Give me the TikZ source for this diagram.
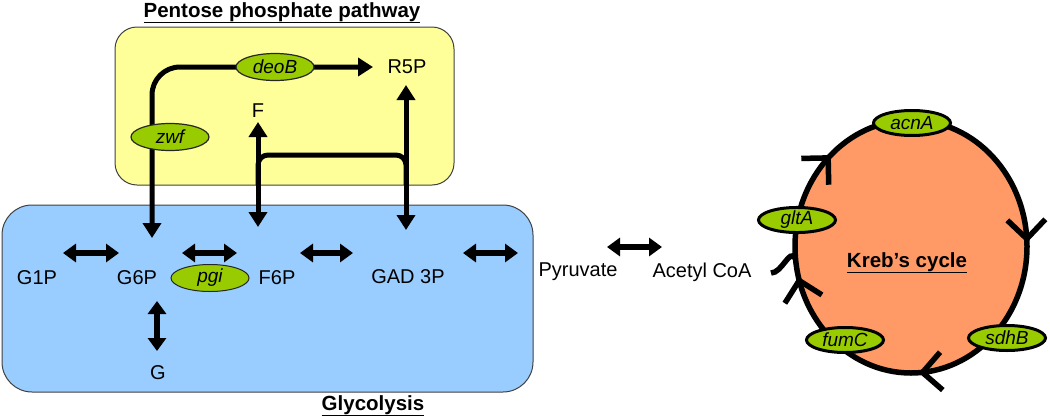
\documentclass[tikz,border=0pt]{standalone}
\usepackage{fontspec}
\setmainfont{Liberation Sans}
\usetikzlibrary{arrows.meta,shapes.geometric,decorations.markings}
\definecolor{pppfill}{HTML}{FFFF99}
\definecolor{glyfill}{HTML}{99CCFF}
\definecolor{krebsfill}{HTML}{FF9966}
\definecolor{genefill}{HTML}{99CC00}
\begin{document}
\begin{tikzpicture}[x=1pt,y=-1pt,
  lbl/.style={font=\fontsize{20}{24}\selectfont, inner sep=0pt},
  gene/.style={ellipse, draw=black!85, fill=genefill, line width=1.2pt, minimum width=78pt, minimum height=27pt, inner sep=0pt, font=\fontsize{19}{22}\selectfont\itshape},
  kgene/.style={gene, draw=black, line width=3pt, minimum width=77pt, minimum height=25pt},
  dbl/.style={line width=5pt, {Triangle[length=15pt,width=18pt]}-{Triangle[length=15pt,width=18pt]}},
  hdbl/.style={line width=5.5pt, {Triangle[length=13pt,width=18pt]}-{Triangle[length=13pt,width=18pt]}},
  ttl/.style={font=\fontsize{20.5}{24}\selectfont\bfseries, inner sep=0pt, anchor=base},
  boxline/.style={draw=black!75, line width=1pt},
  chev/.style={line cap=round}
]
\useasboundingbox (0,0) rectangle (1050,418);

% boxes
\draw[boxline, fill=pppfill, rounded corners=22] (115,27) rectangle (454,185);
\draw[boxline, fill=glyfill, rounded corners=30] (2,205) rectangle (533,392);

% named end points
\coordinate (g6pTop) at (152,238);
\coordinate (r5pLeft) at (373,67);
\coordinate (fBot) at (258,122);
\coordinate (f6pTop) at (258,227);
\coordinate (r5pBot) at (406,85);
\coordinate (gadTop) at (406,230);
\coordinate (brA) at (258,185);
\coordinate (brB) at (406,155);
\coordinate (brC) at (406,185);
\coordinate (a1) at (63,253);   \coordinate (a2) at (119,253);
\coordinate (b1) at (182,253);  \coordinate (b2) at (237,253);
\coordinate (c1) at (300,253);  \coordinate (c2) at (353,253);
\coordinate (d1) at (463,253);  \coordinate (d2) at (518,253);
\coordinate (e1) at (607,247);  \coordinate (e2) at (662,247);
\coordinate (gv1) at (157,301); \coordinate (gv2) at (157,351);
\coordinate (stubA) at (771,273);
\coordinate (stubB) at (795,258);

% pentose phosphate connectors
\draw[dbl, rounded corners=28] (g6pTop) |- (r5pLeft);
\draw[dbl] (f6pTop) -- (fBot);
\draw[line width=5pt, rounded corners=10] (brA) |- (brB) -- (brC);
\draw[dbl] (r5pBot) -- (gadTop);

% glycolysis connectors
\draw[hdbl] (a1) -- (a2);
\draw[hdbl] (b1) -- (b2);
\draw[hdbl] (c1) -- (c2);
\draw[hdbl] (d1) -- (d2);
\draw[hdbl] (e1) -- (e2);
\draw[hdbl] (gv1) -- (gv2);

% Krebs cycle
\draw[line width=5.5pt, fill=krebsfill,
  postaction={decorate},
  decoration={markings,
    mark=at position 0.24 with {\arrow[chev]{Straight Barb[length=19pt,width=38pt]}},
    mark=at position 0.46 with {\arrow[chev]{Straight Barb[length=19pt,width=38pt]}},
    mark=at position 0.632 with {\arrow[chev]{Straight Barb[length=19pt,width=38pt]}},
    mark=at position 0.995 with {\arrow[chev]{Straight Barb[length=19pt,width=38pt]}}}]
  (911,246.5) ellipse [x radius=116, y radius=126.5];
\draw[line width=5.5pt] (stubA) to[out=0,in=120] (stubB);

% labels
\node[lbl] (G1P) at (37,278) {G1P};
\node[lbl] (G6P) at (137,278) {G6P};
\node[gene, line width=1pt] (pgi) at (210,278) {pgi};
\node[lbl] (F6P) at (277,278) {F6P};
\node[lbl] (GAD) at (408,277) {GAD 3P};
\node[lbl] (Pyr) at (578,272) {Pyruvate};
\node[lbl] (Ac) at (702,272) {Acetyl CoA};
\node[lbl] (G) at (158,373) {G};
\node[lbl] (F) at (258,111) {F};
\node[lbl] (R5P) at (407,67) {R5P};
\node[gene] (deoB) at (275,67) {deoB};
\node[gene] (zwf) at (170,137) {zwf};

\node[kgene] (acnA) at (912,123) {acnA};
\node[kgene] (gltA) at (797,220) {gltA};
\node[kgene] (fumC) at (845,340) {fumC};
\node[kgene] (sdhB) at (1007,338) {sdhB};

\node[ttl] (ppp) at (282,17) {\underline{Pentose phosphate pathway}};
\node[ttl] (gly) at (373,410) {\underline{Glycolysis}};
\node[ttl, font=\fontsize{20.5}{24}\selectfont\bfseries] (kc) at (907,267) {\underline{Kreb’s cycle}};
\end{tikzpicture}
\end{document}
